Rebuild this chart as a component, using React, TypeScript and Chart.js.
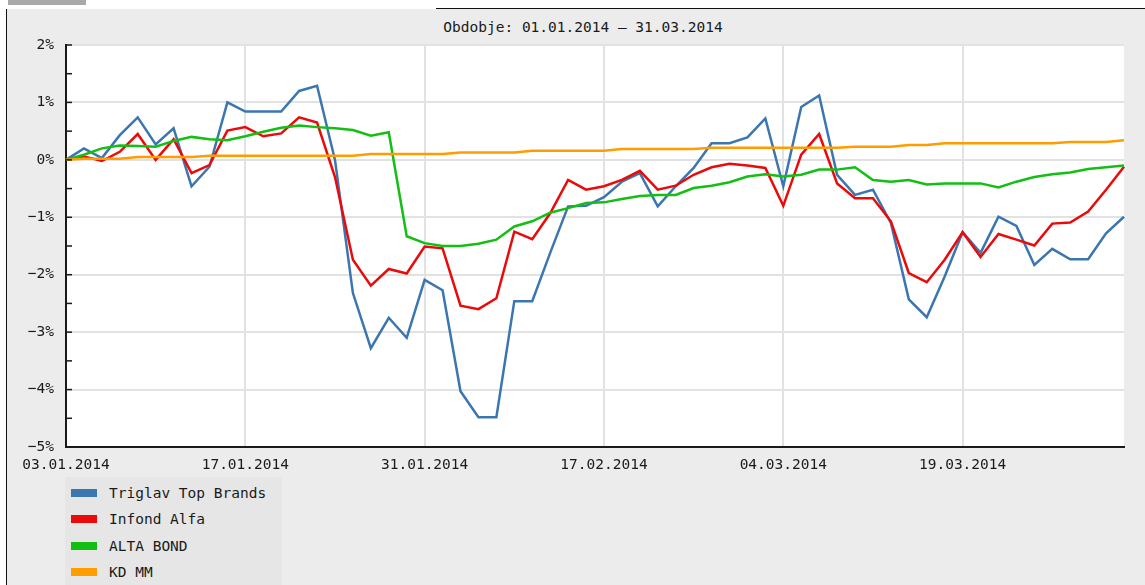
import React, { useEffect, useRef } from 'react';
import { Chart, registerables } from 'chart.js';

Chart.register(...registerables);

const DATES = [
  '03.01.2014', '06.01.2014', '07.01.2014', '08.01.2014', '09.01.2014', '10.01.2014', '13.01.2014', '14.01.2014', '15.01.2014', '16.01.2014',
  '17.01.2014', '20.01.2014', '21.01.2014', '22.01.2014', '23.01.2014', '24.01.2014', '27.01.2014', '28.01.2014', '29.01.2014', '30.01.2014',
  '31.01.2014', '03.02.2014', '04.02.2014', '05.02.2014', '06.02.2014', '07.02.2014', '10.02.2014', '11.02.2014', '12.02.2014', '13.02.2014',
  '17.02.2014', '18.02.2014', '19.02.2014', '20.02.2014', '21.02.2014', '24.02.2014', '25.02.2014', '26.02.2014', '27.02.2014', '28.02.2014',
  '04.03.2014', '05.03.2014', '06.03.2014', '07.03.2014', '10.03.2014', '11.03.2014', '12.03.2014', '13.03.2014', '14.03.2014', '17.03.2014',
  '19.03.2014', '20.03.2014', '21.03.2014', '24.03.2014', '25.03.2014', '26.03.2014', '27.03.2014', '28.03.2014', '29.03.2014', '31.03.2014',
];

const TRIGLAV_TOP_BRANDS = [
  0.0, 0.2, 0.03, 0.43, 0.74, 0.27, 0.55, -0.46, -0.12, 1.0,
  0.84, 0.84, 0.84, 1.2, 1.29, 0.0, -2.32, -3.28, -2.75, -3.1,
  -2.09, -2.27, -4.03, -4.48, -4.48, -2.46, -2.46, -1.62, -0.81, -0.8,
  -0.65, -0.38, -0.23, -0.81, -0.46, -0.14, 0.29, 0.29, 0.39, 0.72,
  -0.46, 0.92, 1.12, -0.26, -0.61, -0.52, -1.1, -2.43, -2.74, -2.03,
  -1.26, -1.62, -0.99, -1.15, -1.83, -1.55, -1.73, -1.73, -1.28, -0.99,
];

const INFOND_ALFA = [
  0.0, 0.06, -0.02, 0.14, 0.45, 0.0, 0.36, -0.23, -0.09, 0.51,
  0.57, 0.41, 0.46, 0.74, 0.65, -0.3, -1.74, -2.19, -1.9, -1.98,
  -1.51, -1.54, -2.54, -2.6, -2.41, -1.25, -1.38, -0.93, -0.35, -0.52,
  -0.46, -0.35, -0.19, -0.52, -0.45, -0.26, -0.13, -0.07, -0.1, -0.14,
  -0.8, 0.09, 0.45, -0.41, -0.67, -0.67, -1.07, -1.97, -2.13, -1.74,
  -1.26, -1.69, -1.29, -1.39, -1.49, -1.11, -1.09, -0.9, -0.52, -0.12,
];

const ALTA_BOND = [
  0.0, 0.09, 0.2, 0.25, 0.24, 0.23, 0.33, 0.4, 0.36, 0.34,
  0.41, 0.49, 0.56, 0.6, 0.57, 0.55, 0.52, 0.42, 0.48, -1.33,
  -1.45, -1.5, -1.5, -1.46, -1.39, -1.16, -1.07, -0.92, -0.84, -0.75,
  -0.74, -0.68, -0.63, -0.61, -0.61, -0.49, -0.45, -0.39, -0.29, -0.25,
  -0.29, -0.26, -0.17, -0.17, -0.13, -0.35, -0.38, -0.35, -0.43, -0.41,
  -0.41, -0.41, -0.48, -0.38, -0.3, -0.25, -0.22, -0.16, -0.13, -0.1,
];

const KD_MM = [
  0.0, 0.02, 0.02, 0.02, 0.05, 0.05, 0.05, 0.05, 0.07, 0.07,
  0.07, 0.07, 0.07, 0.07, 0.07, 0.07, 0.07, 0.1, 0.1, 0.1,
  0.1, 0.1, 0.13, 0.13, 0.13, 0.13, 0.16, 0.16, 0.16, 0.16,
  0.16, 0.19, 0.19, 0.19, 0.19, 0.19, 0.21, 0.21, 0.21, 0.21,
  0.21, 0.21, 0.21, 0.21, 0.23, 0.23, 0.23, 0.26, 0.26, 0.29,
  0.29, 0.29, 0.29, 0.29, 0.29, 0.29, 0.31, 0.31, 0.31, 0.34,
];

const SERIES_NAMES = ['Triglav Top Brands', 'Infond Alfa', 'ALTA BOND', 'KD MM'];
const SERIES_VALUES = [TRIGLAV_TOP_BRANDS, INFOND_ALFA, ALTA_BOND, KD_MM];
const SERIES_COLORS = ['#3b76b1', '#ea0a0a', '#12bf12', '#ff9c00'];

const TITLE = 'Obdobje: 01.01.2014 – 31.03.2014';
const Y_MIN = -5;
const Y_MAX = 2;
const Y_STEP = 0.5;
const LABEL_EVERY = 10;

const FONT = '"DejaVu Sans Mono", "Liberation Mono", monospace';
const TEXT = '#1a1a1a';
const GRID = '#e2e2e2';

const plotBg = {
  id: 'plotBg',
  beforeDraw(chart: any) {
    const { ctx, chartArea: a } = chart;
    ctx.save();
    ctx.fillStyle = '#ffffff';
    ctx.fillRect(a.left, a.top, a.right - a.left, a.bottom - a.top);
    ctx.restore();
  },
};

const innerTicks = {
  id: 'innerTicks',
  afterDraw(chart: any) {
    const { ctx, chartArea: a, scales } = chart;
    ctx.save();
    ctx.strokeStyle = TEXT;
    ctx.lineWidth = 1.5;
    scales.y.ticks.forEach((t: any) => {
      const py = scales.y.getPixelForValue(t.value);
      ctx.beginPath();
      ctx.moveTo(a.left, py);
      ctx.lineTo(a.left + 6, py);
      ctx.stroke();
    });
    scales.x.ticks.forEach((_t: any, i: number) => {
      if (i % LABEL_EVERY !== 0) return;
      const px = scales.x.getPixelForTick(i);
      ctx.beginPath();
      ctx.moveTo(px, a.bottom);
      ctx.lineTo(px, a.bottom - 8);
      ctx.stroke();
    });
    ctx.restore();
  },
};

function ChartCanvas() {
  const ref = useRef<HTMLCanvasElement | null>(null);
  useEffect(() => {
    if (!ref.current) return;
    const order = [3, 2, 1, 0];
    const chart = new Chart(ref.current, {
      type: 'line',
      data: {
        labels: DATES,
        datasets: SERIES_NAMES.map((name, i) => ({
          label: name,
          data: SERIES_VALUES[i],
          borderColor: SERIES_COLORS[i],
          backgroundColor: SERIES_COLORS[i],
          borderWidth: 2.5,
          pointRadius: 0,
          tension: 0,
          fill: false,
          order: order[i],
        })),
      },
      options: {
        responsive: false,
        animation: false,
        devicePixelRatio: 1,
        layout: { padding: { left: 0, right: 21, top: 36, bottom: 0 } },
        plugins: {
          legend: { display: false },
          tooltip: { enabled: false },
          title: { display: false },
        },
        scales: {
          x: {
            type: 'category',
            offset: false,
            grid: { color: GRID, lineWidth: 2, drawTicks: false },
            border: { color: TEXT, width: 2 },
            ticks: {
              autoSkip: false,
              maxRotation: 0,
              padding: 10,
              color: TEXT,
              font: { family: FONT, size: 14.5 },
              callback: function (this: any, v: any, i: number) {
                return i % LABEL_EVERY === 0 ? this.getLabelForValue(v) : null;
              },
            },
            afterFit(s: any) {
              s.height = 32;
            },
          },
          y: {
            min: Y_MIN,
            max: Y_MAX,
            grid: {
              color: (c: any) =>
                c.tick && Number.isInteger(c.tick.value) ? GRID : 'rgba(0,0,0,0)',
              lineWidth: 2,
              drawTicks: false,
            },
            border: { color: TEXT, width: 2 },
            ticks: {
              stepSize: Y_STEP,
              padding: 12,
              color: TEXT,
              font: { family: FONT, size: 14.5 },
              callback: (v: any) =>
                Number.isInteger(v) ? `${v < 0 ? '−' : ''}${Math.abs(v)}%` : '',
            },
            afterFit(s: any) {
              s.width = 59;
            },
          },
        },
      },
      plugins: [plotBg, innerTicks],
    } as any);
    return () => chart.destroy();
  }, []);
  return <canvas ref={ref} width={1138} height={470} style={{ display: 'block', width: 1138, height: 470 }} />;
}

export default function App() {
  return (
    <div style={{ position: 'absolute', left: 0, top: 0, width: 1145, height: 585, overflow: 'hidden', background: '#ffffff' }}>
      <div style={{ position: 'absolute', left: 8, top: 0, width: 78, height: 5, background: '#a9a9a9' }} />
      <div style={{ position: 'absolute', left: 436, top: 8, width: 709, height: 1, background: '#111' }} />
      <div style={{ position: 'absolute', left: 6, top: 9, width: 1139, height: 576, background: '#ececec', borderLeft: '1px solid #111', boxSizing: 'border-box' }} />
      <div
        style={{
          position: 'absolute',
          left: 383,
          top: 17,
          width: 400,
          height: 20,
          lineHeight: '20px',
          textAlign: 'center',
          fontFamily: FONT,
          fontSize: 14.5,
          color: TEXT,
          whiteSpace: 'nowrap',
        }}
      >
        {TITLE}
      </div>
      <div style={{ position: 'absolute', left: 7, top: 9 }}>
        <ChartCanvas />
      </div>
      <div style={{ position: 'absolute', left: 65, top: 477, width: 217, height: 108, background: '#e6e6e6' }}>
        {SERIES_NAMES.map((name, i) => (
          <div key={name} style={{ position: 'absolute', left: 0, top: 6 + i * 26.4, height: 20 }}>
            <div style={{ position: 'absolute', left: 6, top: 6, width: 26, height: 8, background: SERIES_COLORS[i] }} />
            <span style={{ position: 'absolute', left: 44, top: 0, lineHeight: '20px', whiteSpace: 'nowrap', fontFamily: FONT, fontSize: 14.5, color: TEXT }}>{name}</span>
          </div>
        ))}
      </div>
    </div>
  );
}
